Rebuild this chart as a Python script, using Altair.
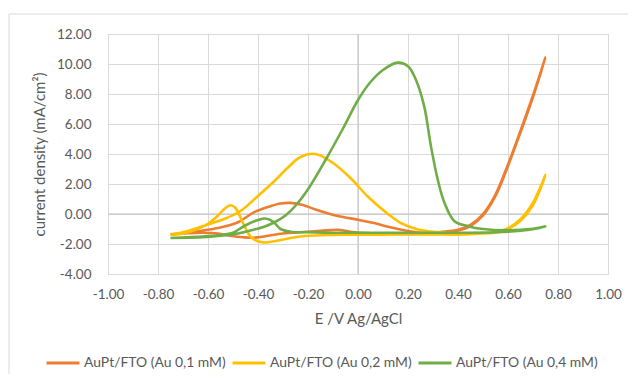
import altair as alt
import pandas as pd

# ---- data ----
series_names = ["AuPt/FTO (Au 0,1 mM)", "AuPt/FTO (Au 0,2 mM)", "AuPt/FTO (Au 0,4 mM)"]
series_colors = ["#ED7D31", "#FFC000", "#70AD47"]

# Au 0,1 mM (one closed scan loop)
E_01 = [-0.75, -0.68, -0.62, -0.56, -0.51, -0.46, -0.42, -0.37, -0.30, -0.22, -0.15, -0.08, -0.03,
        0.05, 0.15, 0.25, 0.33, 0.40, 0.45, 0.50, 0.55, 0.60, 0.65, 0.70, 0.75,
        0.70, 0.65, 0.60, 0.55, 0.50, 0.45, 0.40, 0.33, 0.25, 0.19, 0.12, 0.06, 0.00, -0.08,
        -0.17, -0.22, -0.27, -0.31, -0.35, -0.415, -0.48, -0.55, -0.62, -0.68, -0.75]
J_01 = [-1.35, -1.28, -1.25, -1.30, -1.45, -1.55, -1.58, -1.48, -1.30, -1.20, -1.12, -1.05, -1.18,
        -1.28, -1.30, -1.32, -1.20, -1.05, -0.72, 0.00, 1.30, 3.30, 5.55, 7.90, 10.45,
        7.80, 5.45, 3.20, 1.20, -0.10, -0.80, -1.10, -1.25, -1.25, -1.10, -0.85, -0.59, -0.38, -0.14,
        0.30, 0.60, 0.74, 0.70, 0.52, 0.12, -0.55, -0.90, -1.10, -1.25, -1.35]

# Au 0,2 mM
E_02 = [-0.75, -0.70, -0.65, -0.60, -0.56, -0.53, -0.51, -0.49, -0.46, -0.43, -0.40, -0.37, -0.33,
        -0.27, -0.21, -0.12, 0.00, 0.15, 0.30, 0.45, 0.55, 0.60, 0.65, 0.70, 0.75,
        0.70, 0.65, 0.60, 0.55, 0.45, 0.35, 0.24, 0.17, 0.12, 0.04, -0.03, -0.10, -0.17, -0.23,
        -0.28, -0.334, -0.38, -0.42, -0.47, -0.53, -0.62, -0.68, -0.75]
J_02 = [-1.40, -1.30, -1.05, -0.65, -0.10, 0.40, 0.58, 0.40, -0.60, -1.50, -1.82, -1.90, -1.80,
        -1.60, -1.47, -1.40, -1.38, -1.37, -1.37, -1.35, -1.20, -0.95, -0.35, 0.75, 2.60,
        0.60, -0.45, -1.00, -1.25, -1.30, -1.25, -1.03, -0.59, 0.00, 1.15, 2.40, 3.40, 4.00, 3.80,
        3.10, 2.20, 1.50, 0.90, 0.20, -0.30, -0.80, -1.14, -1.40]

# Au 0,4 mM
E_04 = [-0.75, -0.68, -0.62, -0.55, -0.50, -0.455, -0.40, -0.37, -0.34, -0.31, -0.27, -0.20, -0.10,
        0.00, 0.20, 0.40, 0.55, 0.65, 0.72, 0.75,
        0.70, 0.60, 0.50, 0.44, 0.386, 0.346, 0.319, 0.292, 0.265, 0.232, 0.20, 0.158, 0.10, 0.05,
        0.00, -0.06, -0.13, -0.20, -0.25, -0.29, -0.334, -0.375, -0.415, -0.48, -0.55, -0.62, -0.75]
J_04 = [-1.60, -1.55, -1.50, -1.40, -1.25, -0.80, -0.40, -0.30, -0.50, -1.00, -1.18, -1.22, -1.25,
        -1.25, -1.25, -1.25, -1.22, -1.12, -0.95, -0.82,
        -0.98, -1.08, -1.00, -0.81, -0.48, 0.74, 2.29, 4.50, 7.16, 8.93, 9.85, 10.09, 9.60, 8.80,
        7.60, 5.70, 3.60, 1.65, 0.55, -0.10, -0.55, -0.85, -1.03, -1.30, -1.45, -1.55, -1.60]

x_ticks = [-1.0, -0.8, -0.6, -0.4, -0.2, 0.0, 0.2, 0.4, 0.6, 0.8, 1.0]
y_ticks = [-4, -2, 0, 2, 4, 6, 8, 10, 12]

rows = []
for name, E, J in zip(series_names, [E_01, E_02, E_04], [J_01, J_02, J_04]):
    for i, (e, j) in enumerate(zip(E, J)):
        rows.append({"series": name, "E": e, "j": j, "idx": i})
df = pd.DataFrame(rows)

FONT = "Lato"
GRAY = "#595959"

x_scale = alt.Scale(domain=[-1, 1], nice=False, zero=False)
y_scale = alt.Scale(domain=[-4, 12], nice=False, zero=False)

fix_minus = "replace(format(datum.value, '.2f'), '\u2212', '-')"

x_axis = alt.Axis(values=x_ticks, labelExpr=fix_minus, title="E /V Ag/AgCl",
                  grid=True, gridColor="#D9D9D9", domain=False, ticks=False,
                  labelPadding=13, titlePadding=11, labelFlush=False, labelOverlap=False)
y_axis = alt.Axis(values=y_ticks, labelExpr=fix_minus, title="current density (mA/cm\u00b2)",
                  grid=True, gridColor="#D9D9D9", domain=False, ticks=False,
                  labelPadding=17, titlePadding=9, labelFlush=False, labelOverlap=False)

lines = alt.Chart(df).mark_line(strokeWidth=2.6, interpolate="catmull-rom").encode(
    x=alt.X("E:Q", scale=x_scale, axis=x_axis),
    y=alt.Y("j:Q", scale=y_scale, axis=y_axis),
    color=alt.Color("series:N",
                    scale=alt.Scale(domain=series_names, range=series_colors),
                    legend=alt.Legend(title=None, orient="none", legendX=-63, legendY=311,
                                      direction="horizontal", columns=3,
                                      symbolType="stroke", symbolSize=1089,
                                      symbolStrokeWidth=3, labelOffset=3,
                                      columnPadding=0, labelFont=FONT,
                                      labelFontSize=13.9, labelColor=GRAY)),
    order=alt.Order("idx:Q"),
)

zero_v = alt.Chart(pd.DataFrame({"E": [0.0]})).mark_rule(color="#BFBFBF", strokeWidth=1).encode(
    x=alt.X("E:Q", scale=x_scale, axis=x_axis))
zero_h = alt.Chart(pd.DataFrame({"j": [0.0]})).mark_rule(color="#BFBFBF", strokeWidth=1).encode(
    y=alt.Y("j:Q", scale=y_scale, axis=y_axis))

frame = alt.Chart(alt.Data(values=[{}])).mark_rect(
    filled=False, stroke="#D9D9D9", strokeWidth=1, clip=False
).encode(x=alt.value(-99), x2=alt.value(700), y=alt.value(-20), y2=alt.value(500))

chart = alt.layer(frame, zero_v, zero_h, lines).properties(
    width=500, height=240,
    padding={"left": 100, "top": 26, "right": 20, "bottom": 100},
    autosize=alt.AutoSizeParams(type="none"),
    background="white",
).configure_view(stroke="#D9D9D9").configure_axis(
    labelFont=FONT, labelFontSize=13.5, labelColor=GRAY,
    titleFont=FONT, titleFontSize=15, titleColor=GRAY, titleFontWeight="normal",
)

chart.save("out.html", embed_options={"renderer": "svg", "actions": False})
